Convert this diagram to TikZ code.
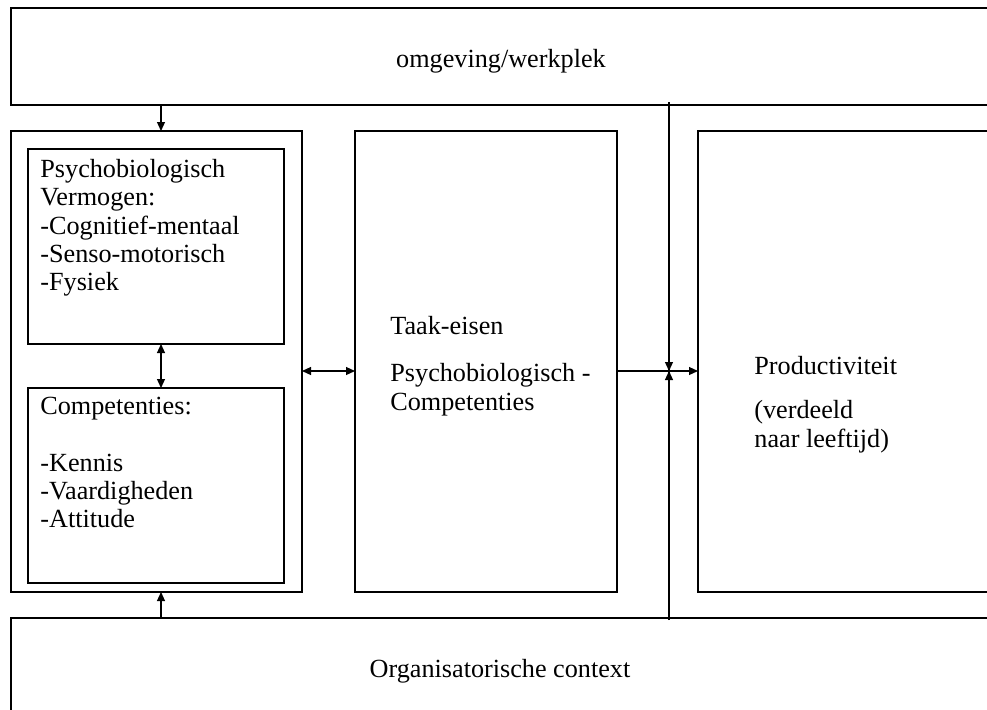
\documentclass[tikz,border=0pt]{standalone}
\usepackage{fontspec}
\setmainfont{Liberation Serif}
\usepackage{tikz}
\usetikzlibrary{arrows.meta,positioning,calc}
\tikzstyle{kader}=[draw, line width=0.6pt, inner sep=0pt, outer sep=0pt]
\tikzstyle{tekst}=[inner sep=0pt, align=left, anchor=north west, font=\fontsize{13.1}{14.15}\selectfont]
\tikzstyle{kop}=[inner sep=0pt, anchor=base, font=\fontsize{13.1}{14.15}\selectfont]
\tikzstyle{pijl}=[line width=0.6pt, -{Triangle[length=4.5pt,width=4pt]}]
\tikzstyle{dubbel}=[line width=0.6pt, {Triangle[length=4.5pt,width=4pt]}-{Triangle[length=4.5pt,width=4pt]}]

\begin{document}
\begin{tikzpicture}[x=0.5pt, y=-0.5pt]
\useasboundingbox (0,0) rectangle (987,709);
\clip (0,0) rectangle (987,709);

% omgeving en context
\node[kader, minimum width=490pt, minimum height=48.5pt] (omgeving) at (501,56.5) {};
\node[kop] (omgevingtxt) at (501,67) {omgeving/werkplek};
\node[kader, minimum width=490pt, minimum height=51pt] (context) at (501,669) {};
\node[kop] (contexttxt) at (500,677) {Organisatorische context};

% persoon
\node[kader, minimum width=145.5pt, minimum height=230.5pt] (persoon) at (156.5,361.5) {};
\node[kader, minimum width=128pt, minimum height=97.5pt] (vermogen) at (156,246.5) {};
\node[kader, minimum width=128pt, minimum height=97.5pt] (competenties) at (156,485.5) {};
\node[tekst] (vermogentxt) at (40,159) {Psychobiologisch\\Vermogen:\\-Cognitief-mentaal\\-Senso-motorisch\\-Fysiek};
\node[tekst] (competentiestxt) at (40,397) {Competenties:\\[14.15pt]-Kennis\\-Vaardigheden\\-Attitude};

% taak en productiviteit
\node[kader, minimum width=131pt, minimum height=230.5pt] (taak) at (486,361.5) {};
\node[tekst] (taaktxt) at (390,316) {Taak-eisen\\[9.5pt]Psychobiologisch -\\Competenties};
\node[kader, minimum width=151pt, minimum height=230.5pt] (productiviteit) at (849,361.5) {};
\node[tekst] (productiviteittxt) at (754,356) {Productiviteit\\[8pt](verdeeld\\naar leeftijd)};

% pijlen
\coordinate (pijlx) at (161,0);
\coordinate (niveau) at (0,371);
\coordinate (lijnboven) at (669,102);
\coordinate (lijnonder) at (669,620);
\draw[pijl] (omgeving.south -| pijlx) -- (persoon.north -| pijlx);
\draw[pijl] (context.north -| pijlx) -- (persoon.south -| pijlx);
\draw[dubbel] (vermogen.south -| pijlx) -- (competenties.north -| pijlx);
\draw[dubbel] (persoon.east |- niveau) -- (taak.west |- niveau);
\draw[pijl] (taak.east |- niveau) -- (productiviteit.west |- niveau);
\draw[line width=0.6pt] (lijnboven) -- (lijnonder);
\draw[pijl] (lijnboven) -- (lijnboven |- niveau);
\draw[pijl] (lijnonder) -- (lijnonder |- niveau);

\end{tikzpicture}
\end{document}
